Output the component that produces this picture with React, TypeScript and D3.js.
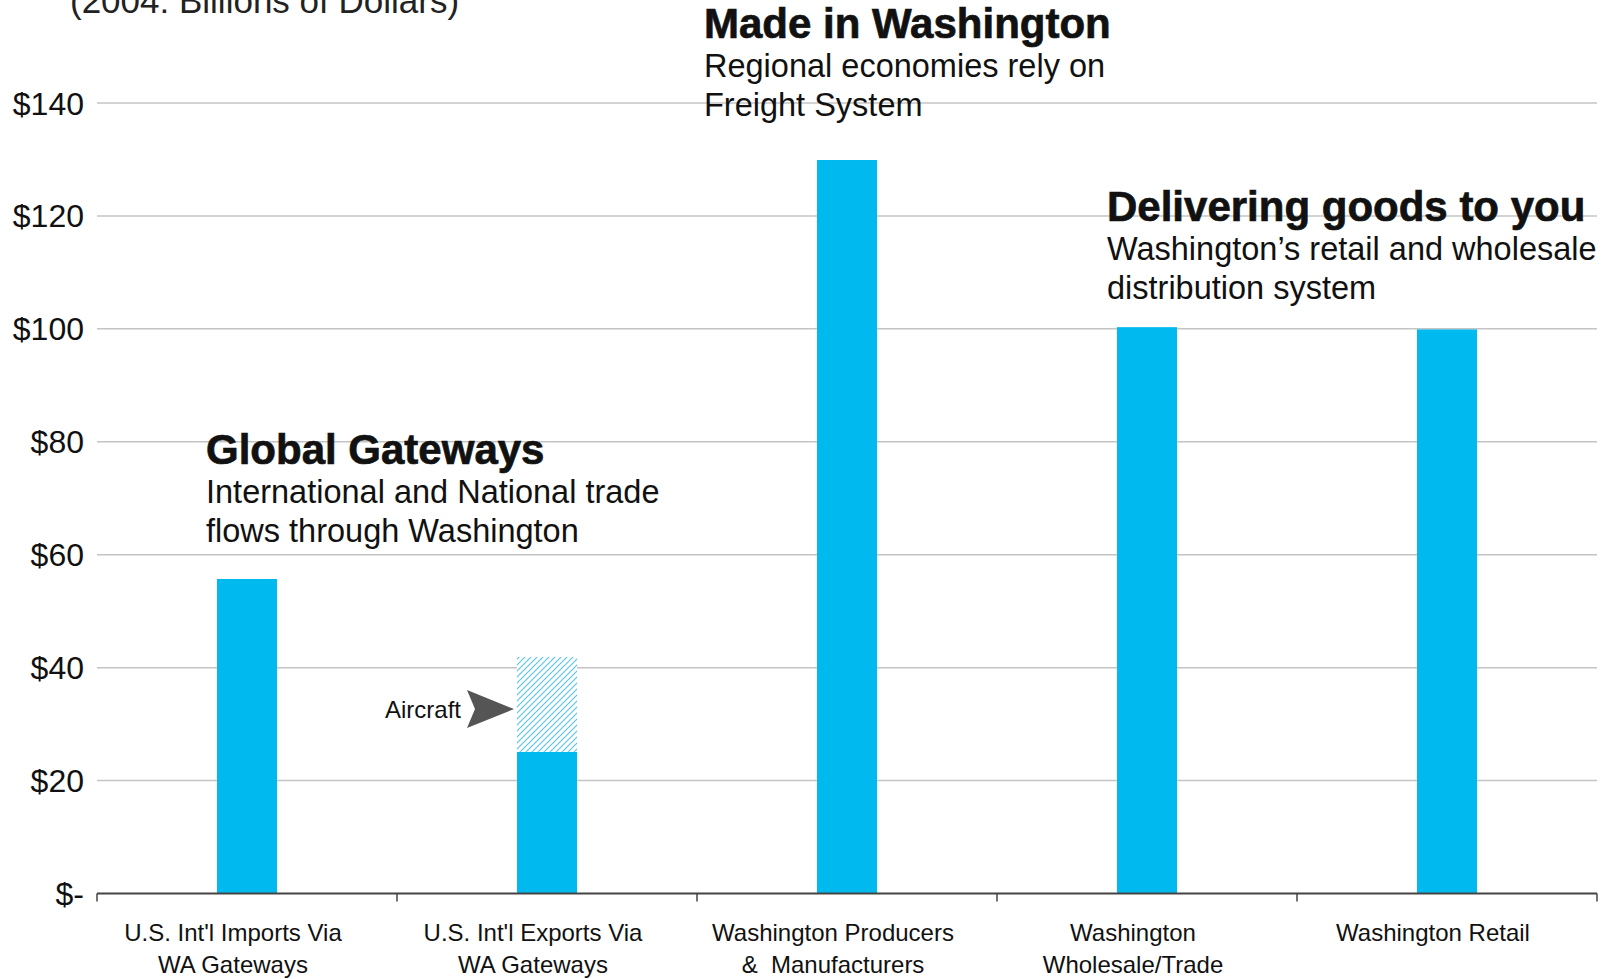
import React from 'react';
import * as d3 from 'd3';

// ---- Data ----
const categoryKeys = ['imports', 'exports', 'producers', 'wholesale', 'retail'];
const categoryLine1 = ["U.S. Int'l Imports Via", "U.S. Int'l Exports Via", 'Washington Producers', 'Washington', 'Washington Retail'];
const categoryLine2 = ['WA Gateways', 'WA Gateways', '&  Manufacturers', 'Wholesale/Trade', ''];
const baseValues = [55.7, 25.1, 129.9, 100.3, 99.9];
const aircraftValues = [0, 16.8, 0, 0, 0];
const yTicks = [0, 20, 40, 60, 80, 100, 120, 140];
const yTickLabels = ['$-', '$20', '$40', '$60', '$80', '$100', '$120', '$140'];

const titleText = '(2004: Billions of Dollars)';
const globalHeading = 'Global Gateways';
const globalLines = ['International and National trade', 'flows through Washington'];
const madeHeading = 'Made in Washington';
const madeLines = ['Regional economies rely on', 'Freight System'];
const deliverHeading = 'Delivering goods to you';
const deliverLines = ['Washington\u2019s retail and wholesale', 'distribution system'];
const aircraftLabel = 'Aircraft';

const W = 1610;
const H = 979;
const FONT = '"Liberation Sans", Arial, Helvetica, sans-serif';
const BAR = '#00B9EF';
const TEXT = '#111';

export default function App() {
  const x = d3.scaleBand<string>().domain(categoryKeys).range([97, 1597]).paddingInner(0.8).paddingOuter(0.4);
  const y = d3.scaleLinear().domain([0, 140]).range([893.5, 103]);
  const step = x.step();
  const x0 = 97;
  const bw = x.bandwidth();
  const boundaries = d3.range(categoryKeys.length + 1).map((i) => x0 + i * step);

  const block = (heading: string, lines: string[], tx: number, ty: number) => (
    <g fontFamily={FONT} fill={TEXT}>
      <text x={tx} y={ty} fontSize={42} fontWeight={700} stroke={TEXT} strokeWidth={0.7}>{heading}</text>
      {lines.map((l, i) => (
        <text key={i} x={tx} y={ty + 39 * (i + 1)} fontSize={32.5}>{l}</text>
      ))}
    </g>
  );

  const ex = x('exports')!;
  const aircraftY = y(baseValues[1] + aircraftValues[1] * 0.45);

  return (
    <svg width={W} height={H} style={{ position: 'absolute', left: 0, top: 0, display: 'block', background: '#fff' }}>
      <defs>
        <pattern id="hatch" patternUnits="userSpaceOnUse" width={6} height={6}>
          <rect width={6} height={6} fill="#fff" />
          <path d="M-1,1 l2,-2 M0,6 l6,-6 M5,7 l2,-2" stroke="#5cc6e6" strokeWidth={1.2} />
        </pattern>
      </defs>
      <rect width={W} height={H} fill="#fff" />

      {/* title (cut off at top, as in the reference) */}
      <text x={70} y={13} fontFamily={FONT} fontSize={35} fill="#222">{titleText}</text>

      {/* gridlines */}
      {yTicks.filter((t) => t > 0).map((t) => (
        <line key={t} x1={97} x2={1597} y1={y(t)} y2={y(t)} stroke="#c4c4c4" strokeWidth={1.5} />
      ))}

      {/* y labels */}
      {yTicks.map((t, i) => (
        <text key={t} x={84} y={y(t)} dy="0.36em" textAnchor="end" fontFamily={FONT} fontSize={32} fill={TEXT}>
          {yTickLabels[i]}
        </text>
      ))}

      {/* bars */}
      {categoryKeys.map((k, i) => (
        <g key={k}>
          <rect x={x(k)} y={y(baseValues[i])} width={bw} height={y(0) - y(baseValues[i])} fill={BAR} />
          {aircraftValues[i] > 0 && (
            <rect
              x={x(k)}
              y={y(baseValues[i] + aircraftValues[i])}
              width={bw}
              height={y(baseValues[i]) - y(baseValues[i] + aircraftValues[i])}
              fill="url(#hatch)"
            />
          )}
        </g>
      ))}

      {/* x axis */}
      <line x1={97} x2={1597} y1={y(0)} y2={y(0)} stroke="#444" strokeWidth={2} />
      {boundaries.map((b, i) => (
        <line key={i} x1={b} x2={b} y1={y(0)} y2={y(0) + 8} stroke="#444" strokeWidth={1.5} />
      ))}
      {categoryKeys.map((k, i) => {
        const cx = (x(k) as number) + bw / 2 - 14;
        return (
          <g key={k} fontFamily={FONT} fontSize={24} fill={TEXT} textAnchor="middle">
            <text x={cx} y={941}>{categoryLine1[i]}</text>
            {categoryLine2[i] && <text x={cx} y={973} style={{ whiteSpace: 'pre' }}>{categoryLine2[i]}</text>}
          </g>
        );
      })}

      {/* aircraft annotation */}
      <text x={461} y={aircraftY} dy="0.36em" textAnchor="end" fontFamily={FONT} fontSize={24} fill={TEXT}>{aircraftLabel}</text>
      <path
        d={`M${ex - 3},${aircraftY} L${ex - 50},${aircraftY - 19} L${ex - 42},${aircraftY} L${ex - 50},${aircraftY + 19} Z`}
        fill="#555"
      />

      {block(globalHeading, globalLines, 206, 464)}
      {block(madeHeading, madeLines, 704, 38)}
      {block(deliverHeading, deliverLines, 1107, 221)}
    </svg>
  );
}
